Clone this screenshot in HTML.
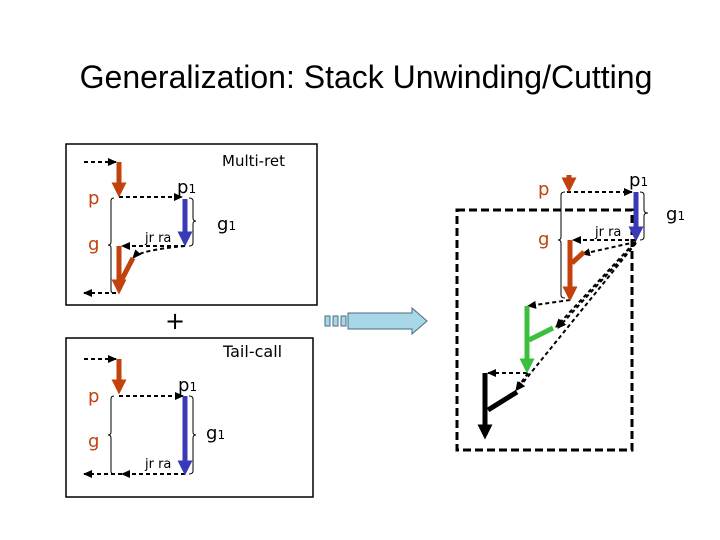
<!DOCTYPE html>
<html><head><style>body{margin:0;background:#fff}svg{display:block}text{font-family:"DejaVu Sans","Liberation Sans",sans-serif}</style></head><body>
<svg width="720" height="540" viewBox="0 0 720 540" xmlns="http://www.w3.org/2000/svg">
<defs>
<marker id="a" viewBox="0 0 10 10" refX="8" refY="5" markerWidth="5" markerHeight="5" orient="auto"><path d="M0,1 L9,5 L0,9z" fill="#000"/></marker>
<marker id="r" viewBox="0 0 10 10" refX="7" refY="5" markerWidth="3" markerHeight="3" orient="auto"><path d="M0,0 L10,5 L0,10z" fill="#c2410c"/></marker>
<marker id="b" viewBox="0 0 10 10" refX="7" refY="5" markerWidth="3" markerHeight="3" orient="auto"><path d="M0,0 L10,5 L0,10z" fill="#3a3ab8"/></marker>
<marker id="gm" viewBox="0 0 10 10" refX="7" refY="5" markerWidth="3" markerHeight="3" orient="auto"><path d="M0,0 L10,5 L0,10z" fill="#3cbf3c"/></marker>
<marker id="k" viewBox="0 0 10 10" refX="7" refY="5" markerWidth="3" markerHeight="3" orient="auto"><path d="M0,0 L10,5 L0,10z" fill="#000"/></marker>
</defs>
<text x="366" y="88" font-size="32" text-anchor="middle" style="font-family:'Liberation Sans',sans-serif">Generalization: Stack Unwinding/Cutting</text>

<g fill="none" stroke="#000" stroke-dasharray="4,3" stroke-width="2" marker-end="url(#a)">
<path d="M84 162 H116"/><path d="M119 197 H182"/><path d="M185 246 H122"/><path d="M185 246 Q140 250 133 258"/><path d="M116 293 H84"/>
<path d="M84 359 H116"/><path d="M119 396 H183"/><path d="M185 474 H122"/><path d="M122 474 H84"/>
<path d="M567 192 H632"/><path d="M636 240 H573"/><path d="M636 242 L582 254"/><path d="M570 300 L528 306"/>
<path d="M636 243 L558 328"/><path d="M634 243 L556 327"/><path d="M527 373 H488"/><path d="M636 243 L517 390"/><path d="M528 373 L516 390"/>
</g>
<rect x="66" y="144" width="251" height="161" fill="none" stroke="#000" stroke-width="1.5"/>
<rect x="66" y="338" width="247" height="159" fill="none" stroke="#000" stroke-width="1.5"/>
<rect x="457" y="210" width="175" height="240" fill="none" stroke="#000" stroke-width="3" stroke-dasharray="8,4"/>

<g stroke-width="5" fill="none">
<path d="M119 162 V193" stroke="#c2410c" marker-end="url(#r)"/>
<path d="M185 199 V242" stroke="#3a3ab8" marker-end="url(#b)"/>
<path d="M119 246 V290" stroke="#c2410c" marker-end="url(#r)"/>
<path d="M121 281 L133 258" stroke="#c2410c"/>
<path d="M119 359 V390" stroke="#c2410c" marker-end="url(#r)"/>
<path d="M185 396 V471" stroke="#3a3ab8" marker-end="url(#b)"/>
<path d="M569 175 V188" stroke="#c2410c" marker-end="url(#r)"/>
<path d="M636 192 V237" stroke="#3a3ab8" marker-end="url(#b)"/>
<path d="M570 240 V297" stroke="#c2410c" marker-end="url(#r)"/>
<path d="M572 263 L584 252" stroke="#c2410c"/>
<path d="M527 306 V369" stroke="#3cbf3c" marker-end="url(#gm)"/>
<path d="M529 340 L553 328" stroke="#3cbf3c"/>
<path d="M485 373 V435" stroke="#000" marker-end="url(#k)"/>
<path d="M488 410 L517 392" stroke="#000"/>
</g>
<g fill="none" stroke="#000" stroke-width="1">
<path d="M114 198 Q111 198 111 201 V242 Q111 245 108 245 Q111 245 111 248 V290 Q111 293 114 293"/>
<path d="M189 198 Q193 198 193 201 V218 Q193 221 196 221 Q193 221 193 224 V243 Q193 246 189 246"/>
<path d="M114 396 Q111 396 111 399 V432 Q111 435 108 435 Q111 435 111 438 V471 Q111 474 114 474"/>
<path d="M189 396 Q193 396 193 399 V432 Q193 435 196 435 Q193 435 193 438 V471 Q193 474 189 474"/>
<path d="M565 192 Q561 192 561 195 V237 Q561 240 558 240 Q561 240 561 243 V295 Q561 298 565 298"/>
<path d="M640 192 Q644 192 644 195 V210 Q644 213 648 213 Q644 213 644 216 V237 Q644 240 640 240"/>
</g>
<g font-size="18">
<text x="222" y="166" font-size="15">Multi-ret</text>
<text x="88" y="204" fill="#c2410c">p</text><text x="88" y="250" fill="#c2410c">g</text>
<text x="177" y="193">p<tspan font-size="12">1</tspan></text>
<text x="217" y="230">g<tspan font-size="12">1</tspan></text>
<text x="145" y="242" font-size="13">jr ra</text>
<text x="165" y="329" font-size="24">+</text>
<text x="223" y="357" font-size="16">Tail-call</text>
<text x="88" y="402" fill="#c2410c">p</text><text x="88" y="447" fill="#c2410c">g</text>
<text x="178" y="391">p<tspan font-size="12">1</tspan></text>
<text x="206" y="439">g<tspan font-size="12">1</tspan></text>
<text x="145" y="468" font-size="13">jr ra</text>
<text x="538" y="195" fill="#c2410c">p</text><text x="538" y="245" fill="#c2410c">g</text>
<text x="629" y="186">p<tspan font-size="12">1</tspan></text>
<text x="666" y="220">g<tspan font-size="12">1</tspan></text>
<text x="595" y="236" font-size="13">jr ra</text>
</g>
<g stroke="#4a6a80" stroke-width="1">
<path d="M348 313 H412 V308 L427 321 L412 334 V329 H348 Z" fill="#a8d8e8"/>
<rect x="325" y="316" width="5" height="10" fill="#a8d8e8"/><rect x="333" y="316" width="5" height="10" fill="#a8d8e8"/><rect x="341" y="316" width="5" height="10" fill="#a8d8e8"/>
</g>
</svg>
</body></html>
